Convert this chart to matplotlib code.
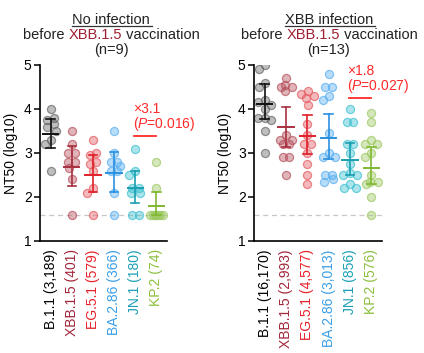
import numpy as np
import matplotlib
matplotlib.use("Agg")
from matplotlib import pyplot as plt
from matplotlib.colors import to_rgba
from matplotlib.lines import Line2D

plt.rcParams['font.family'] = ['Liberation Sans', 'DejaVu Sans']
plt.rcParams['mathtext.fontset'] = 'custom'
plt.rcParams['mathtext.rm'] = 'Liberation Sans'
plt.rcParams['mathtext.it'] = 'Liberation Sans:italic'

# ---- data ------------------------------------------------------------
left_labels = ["B.1.1 (3,189)", "XBB.1.5 (401)", "EG.5.1 (579)",
               "BA.2.86 (366)", "JN.1 (180)", "KP.2 (74)"]
right_labels = ["B.1.1 (16,170)", "XBB.1.5 (2,993)", "EG.5.1 (4,577)",
                "BA.2.86 (3,013)", "JN.1 (856)", "KP.2 (576)"]

# NT50 (log10), no infection (n=9)
noinf_b11 = [4.0, 3.8, 3.75, 3.65, 3.6, 3.5, 3.3, 3.2, 2.6]
noinf_xbb = [3.5, 3.2, 3.0, 3.0, 2.8, 2.8, 2.65, 2.4, 1.6]
noinf_eg = [3.3, 3.0, 2.95, 2.8, 2.75, 2.6, 2.2, 2.1, 1.6]
noinf_ba = [3.5, 3.0, 2.8, 2.8, 2.7, 2.6, 2.6, 2.1, 1.6]
noinf_jn = [3.1, 2.6, 2.5, 2.2, 2.2, 2.1, 2.1, 1.6, 1.6]
noinf_kp = [2.8, 2.2, 1.6, 1.6, 1.6, 1.6, 1.6, 1.6, 1.6]
noinf_center = [3.44, 2.68, 2.50, 2.54, 2.21, 1.79]
noinf_lo = [3.12, 2.24, 2.11, 2.11, 1.86, 1.60]
noinf_hi = [3.78, 3.17, 2.96, 3.02, 2.59, 2.11]

# NT50 (log10), XBB infection (n=13)
xbbinf_b11 = [5.0, 4.9, 4.6, 4.5, 4.2, 4.15, 4.1, 4.0, 3.8, 3.8, 3.75, 3.5, 3.0]
xbbinf_xbb = [4.7, 4.55, 4.5, 4.5, 4.4, 3.4, 3.3, 3.3, 3.2, 3.2, 2.9, 2.9, 2.5]
xbbinf_eg = [4.4, 4.35, 4.3, 4.25, 4.1, 3.65, 3.4, 3.2, 3.2, 3.0, 2.75, 2.5, 2.3]
xbbinf_ba = [4.8, 4.5, 4.5, 4.3, 4.2, 3.45, 3.0, 2.9, 2.9, 2.5, 2.5, 2.4, 2.35]
xbbinf_jn = [4.0, 3.7, 3.7, 3.2, 3.2, 3.0, 2.75, 2.55, 2.5, 2.5, 2.3, 2.2, 2.2]
xbbinf_kp = [3.9, 3.7, 3.3, 3.2, 3.2, 3.0, 2.9, 2.5, 2.35, 2.35, 2.3, 2.0, 1.6]
xbbinf_center = [4.12, 3.58, 3.39, 3.34, 2.83, 2.66]
xbbinf_lo = [3.77, 3.14, 2.98, 2.87, 2.49, 2.30]
xbbinf_hi = [4.56, 4.05, 3.86, 3.88, 3.22, 3.14]

detect_limit = 1.6
fold_left, p_left, bar_left = "×3.1", "0.016", 3.38
fold_right, p_right, bar_right = "×1.8", "0.027", 4.24

label_colors = ["#000000", "#a3263a", "#e8202a", "#3a9ee6", "#1a9fb5", "#8bbf3c"]
line_colors = ["#111111", "#a8303f", "#e0202a", "#2b90e0", "#1a9fb0", "#80b830"]
pt_colors = ["#666666", "#b5505c", "#e35a60", "#58aef0", "#3cc0d0", "#9cc860"]
red = "#ff2a2a"


def swarm(vals, px_x=21.3, px_y=44.3, d=7.0, maxoff=0.34):
    # greedy beeswarm in pixel space, then centre each row
    vals = np.asarray(vals)
    order = np.argsort(vals)[::-1]
    cands = [0.0]
    for k in range(1, 12):
        cands += [-0.04 * k, 0.04 * k]
    cands = [c for c in cands if abs(c) <= maxoff]
    placed = []
    offs = np.zeros(len(vals))
    for i in order:
        v = vals[i]
        best, bestd = 0.0, -1
        for c in cands:
            if not placed:
                best = c
                break
            md = min(np.hypot((c - o) * px_x, (v - w) * px_y) for o, w in placed)
            if md >= d:
                best = c
                break
            if md > bestd:
                bestd, best = md, c
        placed.append((best, v))
        offs[i] = best
    # rows of nearly equal values get centred
    srt = list(order)
    rows, cur = [], [srt[0]]
    for a, b in zip(srt[:-1], srt[1:]):
        if vals[a] - vals[b] < 0.07:
            cur.append(b)
        else:
            rows.append(cur)
            cur = [b]
    rows.append(cur)
    for r in rows:
        if len(r) > 1:
            offs[r] -= offs[r].mean()
    return offs


def panel(ax, groups, center, lo, hi, labels, fold, pval, bar_y):
    ax.axhline(detect_limit, color="#c8c8c8", lw=0.9, ls=(0, (4, 3)), zorder=0)
    for i, vals in enumerate(groups):
        vals = np.array(vals)
        xs = i + swarm(vals)
        ax.scatter(xs, vals, s=34, facecolor=to_rgba(pt_colors[i], 0.42),
                   edgecolor=to_rgba(pt_colors[i], 0.7), linewidth=0.9, zorder=2)
        c = line_colors[i]
        ax.plot([i, i], [lo[i], hi[i]], color=c, lw=1.2, zorder=3)
        ax.plot([i - 0.2, i + 0.2], [lo[i], lo[i]], color=c, lw=1.2, zorder=3)
        ax.plot([i - 0.2, i + 0.2], [hi[i], hi[i]], color=c, lw=1.2, zorder=3)
        ax.plot([i - 0.36, i + 0.36], [center[i], center[i]], color=c, lw=1.4, zorder=3)

    # fold change / p value
    ax.plot([3.95, 5.0], [bar_y, bar_y], color=red, lw=1.3, zorder=4)
    ax.annotate(fold, (3.88, bar_y), xytext=(0, 19.5), textcoords="offset points",
                ha="left", va="center", color=red, fontsize=10)
    ax.annotate("($\\mathit{P}$=" + pval + ")", (3.88, bar_y), xytext=(0, 9),
                textcoords="offset points", ha="left", va="center", color=red,
                fontsize=10)

    ax.set_xlim(-0.5, 5.5)
    ax.set_ylim(1, 5)
    ax.set_yticks([1, 2, 3, 4, 5])
    ax.set_xticks(range(6))
    ax.set_xticklabels(labels, rotation=90, fontsize=10)
    for t, col in zip(ax.get_xticklabels(), label_colors):
        t.set_color(col)
    ax.tick_params(axis="x", length=0, pad=6)
    ax.tick_params(axis="y", length=4, width=1.1, labelsize=10, pad=2)
    for s in ["top", "right"]:
        ax.spines[s].set_visible(False)
    for s in ["left", "bottom"]:
        ax.spines[s].set_linewidth(1.2)
    ax.set_ylabel("NT50 (log10)", fontsize=10, labelpad=4)


def title(fig, xc, first):
    r = fig.canvas.get_renderer()
    W, H = fig.bbox.width, fig.bbox.height
    t1 = fig.text(xc / W, 1 - 20 / H, first, ha="center", va="center",
                  fontsize=10.5, color="#222222")
    bb = t1.get_window_extent(r)
    uy = 1 - 26 / H
    fig.add_artist(Line2D([bb.x0 / W, bb.x1 / W + 2 / W], [uy, uy],
                          color="#333333", lw=0.9))
    parts = [("before ", "#222222"), ("XBB.1.5", "#a01e32"), (" vaccination", "#222222")]
    texts = [fig.text(0, 1 - 35 / H, p, ha="left", va="center", fontsize=10.5, color=c)
             for p, c in parts]
    widths = [t.get_window_extent(r).width for t in texts]
    x = xc - sum(widths) / 2
    for t, w in zip(texts, widths):
        t.set_x(x / W)
        x += w
    return t1


fig = plt.figure(figsize=(4.24, 3.53), dpi=100)
W, H = 424, 353
axL = fig.add_axes([40 / W, 1 - 241 / H, 127 / W, 176 / H])
axR = fig.add_axes([254 / W, 1 - 241 / H, 128 / W, 176 / H])

panel(axL, [noinf_b11, noinf_xbb, noinf_eg, noinf_ba, noinf_jn, noinf_kp],
      noinf_center, noinf_lo, noinf_hi, left_labels, fold_left, p_left, bar_left)
panel(axR, [xbbinf_b11, xbbinf_xbb, xbbinf_eg, xbbinf_ba, xbbinf_jn, xbbinf_kp],
      xbbinf_center, xbbinf_lo, xbbinf_hi, right_labels, fold_right, p_right, bar_right)

title(fig, 111, "No infection")
fig.text(111 / W, 1 - 50 / H, "(n=9)", ha="center", va="center", fontsize=10.5, color="#222222")
title(fig, 329, "XBB infection")
fig.text(329 / W, 1 - 50 / H, "(n=13)", ha="center", va="center", fontsize=10.5, color="#222222")

fig.savefig("out.png", dpi=100)
